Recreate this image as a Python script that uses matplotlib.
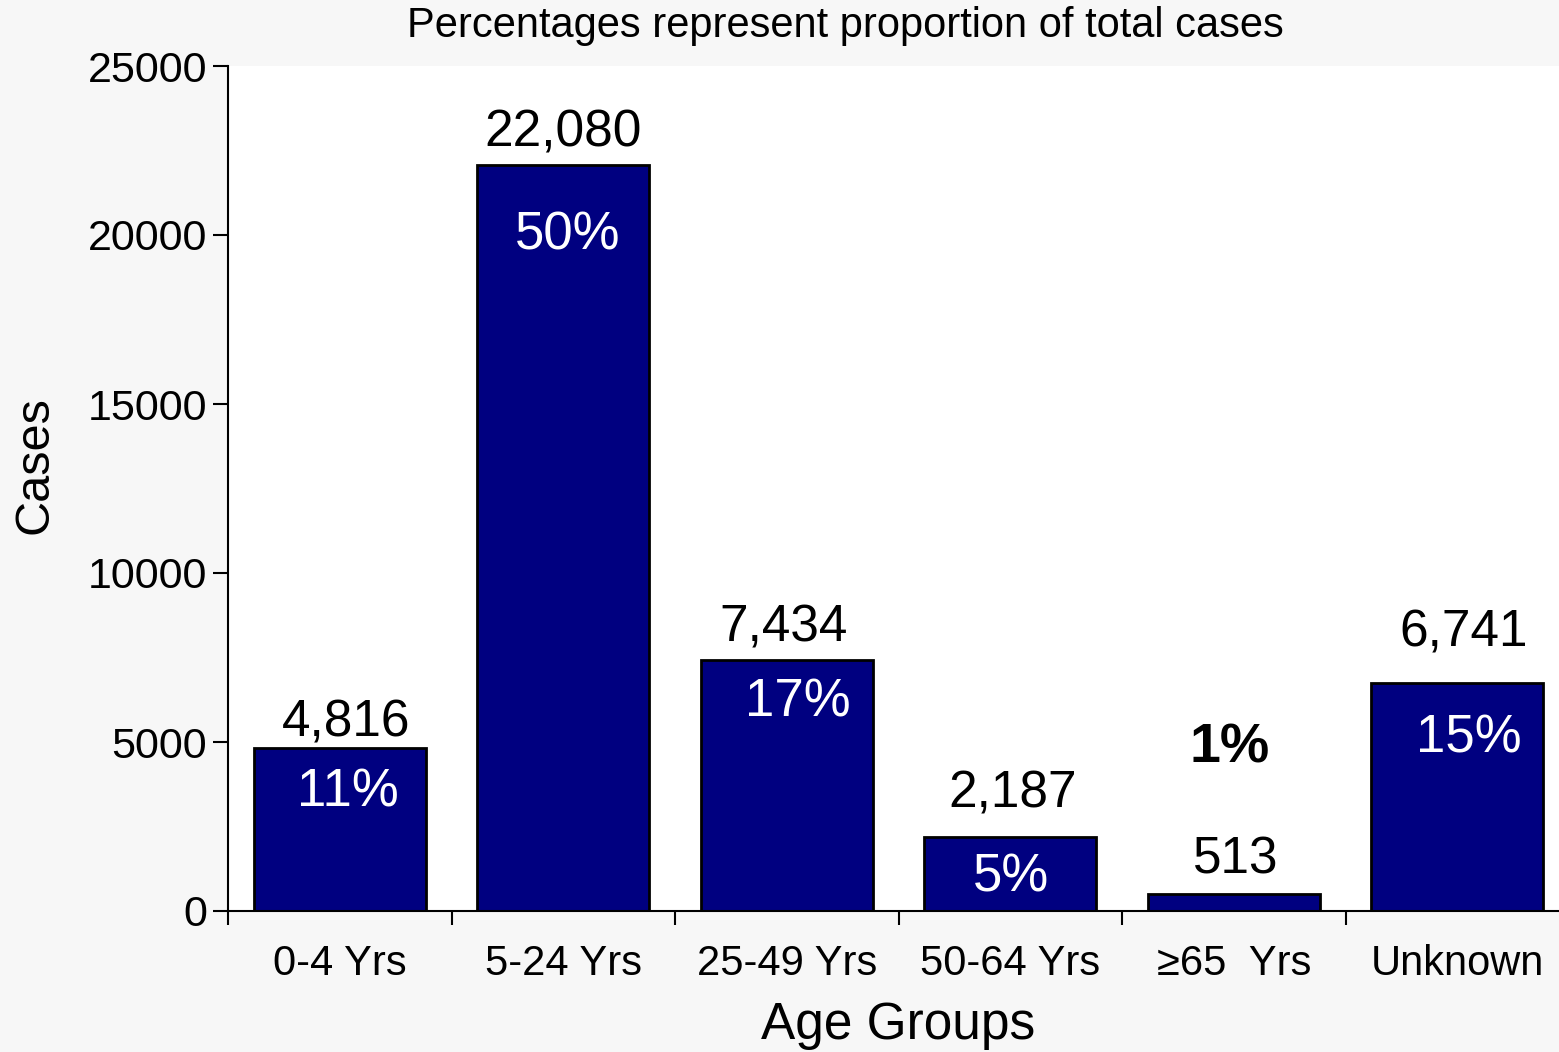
import matplotlib
matplotlib.use("Agg")
import matplotlib.pyplot as plt
import numpy as np

plt.rcParams['font.family'] = ['Liberation Sans', 'DejaVu Sans']

groups = ["0-4 Yrs", "5-24 Yrs", "25-49 Yrs", "50-64 Yrs", "\u226565  Yrs", "Unknown"]
cases = [4816, 22080, 7434, 2187, 513, 6741]
case_labels = ["4,816", "22,080", "7,434", "2,187", "513", "6,741"]
pct_labels = ["11%", "50%", "17%", "5%", "1%", "15%"]

fig = plt.figure(figsize=(15.59, 10.52), dpi=100)
fig.patch.set_facecolor("#f7f7f7")
ax = fig.add_axes([228 / 1559, 1 - 911 / 1052, (1569 - 228) / 1559, (911 - 66) / 1052])
ax.set_facecolor("white")

x = np.arange(len(groups))
ax.bar(x, cases, width=0.77, color="#000080", edgecolor="black", linewidth=2, zorder=2)

ax.set_xlim(-0.5, 5.5)
ax.set_ylim(0, 25000)
ax.set_yticks(np.arange(0, 25001, 5000))
ax.tick_params(axis="y", labelsize=31, length=11, width=1.5, pad=4)
ax.set_xticks(x)
ax.set_xticklabels(groups)
ax.tick_params(axis="x", which="major", labelsize=30, length=0, pad=24)
ax.set_xticks(np.arange(-0.5, 6, 1), minor=True)
ax.tick_params(axis="x", which="minor", length=10, width=1.5)

for s in ["top", "right"]:
    ax.spines[s].set_visible(False)
for s in ["left", "bottom"]:
    ax.spines[s].set_linewidth(1.5)

# value labels above bars (offsets in points, x shift in data units)
val_dy = [18, 23, 23, 31, 24, 36]
val_dx = [0.03, 0, -0.013, 0.01, 0.01, 0.027]
for i, (v, lab) in enumerate(zip(cases, case_labels)):
    ax.annotate(lab, (i + val_dx[i], v), xytext=(0, val_dy[i]), textcoords="offset points",
                ha="center", va="center", fontsize=37)

# percentage labels inside bars
pct_dy = [-32, -51, -31, -29, None, -40]
pct_dx = [0.038, 0.018, 0.05, 0.005, -0.02, 0.05]
for i, (v, p) in enumerate(zip(cases, pct_labels)):
    if pct_dy[i] is None:
        ax.text(i + pct_dx[i], 4800, p, ha="center", va="center", fontsize=40,
                fontweight="bold", color="black")
    else:
        ax.annotate(p, (i + pct_dx[i], v), xytext=(0, pct_dy[i]), textcoords="offset points",
                    ha="center", va="center", fontsize=38, color="white")

ax.set_xlabel("Age Groups", fontsize=37, labelpad=12)
fig.text(35 / 1559, 1 - 465 / 1052, "Cases", rotation=90, ha="center", va="center", fontsize=35)
fig.text(845 / 1559, 1 - 26 / 1052, "Percentages represent proportion of total cases",
         ha="center", va="center", fontsize=30)

fig.savefig("out.png", dpi=100, facecolor=fig.get_facecolor())
